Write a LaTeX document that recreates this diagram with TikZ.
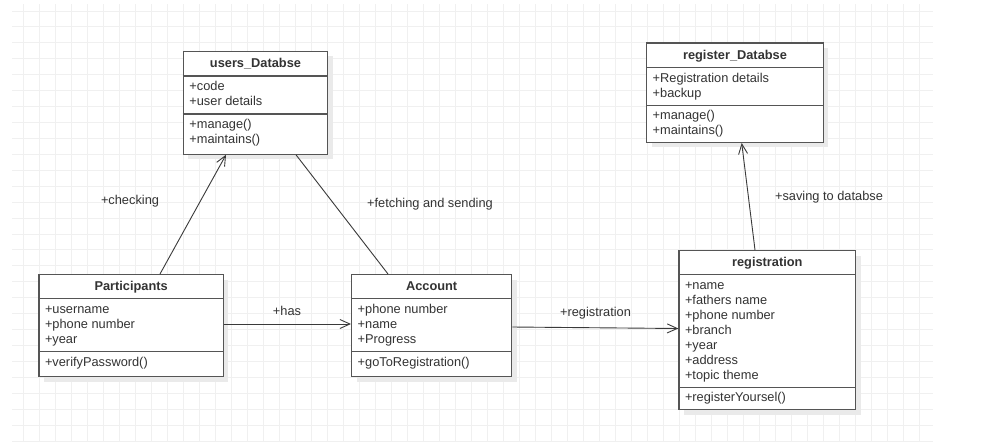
\documentclass[tikz,border=0pt]{standalone}
\usepackage{fontspec}
\setmainfont{Liberation Sans}
\usetikzlibrary{arrows.meta,shadows}

\definecolor{gridc}{HTML}{F0F0F0}
\definecolor{ink}{HTML}{333333}
\definecolor{edgec}{HTML}{555555}
\definecolor{wire}{HTML}{3A3A3A}
\definecolor{shadec}{HTML}{EAEAEA}

\tikzset{
  classbox/.style={draw=edgec, line width=1.3pt, fill=white, anchor=north west,
    inner sep=0pt, drop shadow={shadow xshift=5pt, shadow yshift=-5pt, fill=shadec, opacity=1}},
  divider/.style={draw=edgec, line width=1.3pt},
  txt/.style={text=ink, inner sep=0pt, font=\fontsize{12.8}{15}\selectfont},
  titletxt/.style={txt, anchor=base, font=\fontsize{12.8}{15}\selectfont\bfseries},
  membertxt/.style={txt, anchor=base west},
  lbl/.style={txt, anchor=base},
  assoc/.style={draw=wire, line width=0.9pt},
  navarrow/.style={assoc, -{Straight Barb[length=10pt,width=9pt,line width=0.9pt]}},
}

% #1 name, #2 top-left corner, #3 width, #4 height,
% #5 title row height, #6 offset of the methods divider,
% #7 title, #8 attributes, #9 methods
\newcommand\umlclass[9]{%
  \node[classbox, minimum width=#3pt, minimum height=#4pt] (#1) at #2 {};
  \draw[divider] ([yshift=-#5pt]#1.north west) -- ([yshift=-#5pt]#1.north east);
  \draw[divider] ([yshift=-#6pt]#1.north west) -- ([yshift=-#6pt]#1.north east);
  \node[titletxt] (#1-title) at ([yshift={-(#5/2+4.6)*1pt}]#1.north) {#7};
  \foreach \t [count=\i] in {#8}
    \node[membertxt] (#1-a\i) at ([xshift=6.5pt, yshift={-(#5+14.7+15*(\i-1))*1pt}]#1.north west) {\t};
  \foreach \t [count=\i] in {#9}
    \node[membertxt] (#1-m\i) at ([xshift=6.5pt, yshift={-(#6+14.5+15*(\i-1))*1pt}]#1.north west) {\t};
}

\begin{document}
\begin{tikzpicture}[x=1pt, y=-1pt]
  \useasboundingbox (0,0) rectangle (984,442);
  \fill[white] (0,0) rectangle (984,442);

  % background grid
  \foreach \k in {0,...,56}
    \draw[gridc, line width=0.9pt] (23+16*\k,4) -- (23+16*\k,442);
  \foreach \k in {0,...,27}
    \draw[gridc, line width=0.9pt] (12,11+15.926*\k) -- (933,11+15.926*\k);

  % classes
  \umlclass{users}{(182.7,50.7)}{144.3}{102.8}{25.3}{63.3}{users\_Databse}
    {{+code},{+user details}}{{+manage()},{+maintains()}}
  \umlclass{regdb}{(646,42.3)}{176.7}{99.4}{25}{63}{register\_Databse}
    {{+Registration details},{+backup}}{{+manage()},{+maintains()}}
  \umlclass{part}{(38.3,274)}{184.4}{102}{24.3}{77.7}{Participants}
    {{+username},{+phone number},{+year}}{{+verifyPassword()}}
  \umlclass{acc}{(351,274)}{160}{102}{24.3}{77.7}{Account}
    {{+phone number},{+name},{+Progress}}{{+goToRegistration()}}
  \umlclass{reg}{(678.3,250)}{176.7}{159}{24.3}{137.3}{registration}
    {{+name},{+fathers name},{+phone number},{+branch},{+year},{+address},{+topic theme}}
    {{+registerYoursel()}}

  % associations
  \draw[navarrow] ([xshift=121.7pt]part.north west) -- ([xshift=43.3pt]users.south west);
  \draw[assoc] ([xshift=113.3pt]users.south west) -- ([xshift=37pt]acc.north west);
  \draw[navarrow] ([yshift=-50pt]part.north east) -- ([yshift=-50pt]acc.north west);
  \draw[navarrow] ([yshift=-53pt]acc.north east) -- ([yshift=-78.5pt]reg.north west);
  \draw[navarrow] ([xshift=76.7pt]reg.north west) -- ([xshift=95.7pt]regdb.south west);

  % association labels
  \node[lbl] (l-check) at (130,204.5) {+checking};
  \node[lbl] (l-fetch) at (430,207.5) {+fetching and sending};
  \node[lbl] (l-has)   at (287,315.5) {+has};
  \node[lbl] (l-reg)   at (595.5,316.5) {+registration};
  \node[lbl] (l-save)  at (829,200.5) {+saving to databse};
\end{tikzpicture}
\end{document}
